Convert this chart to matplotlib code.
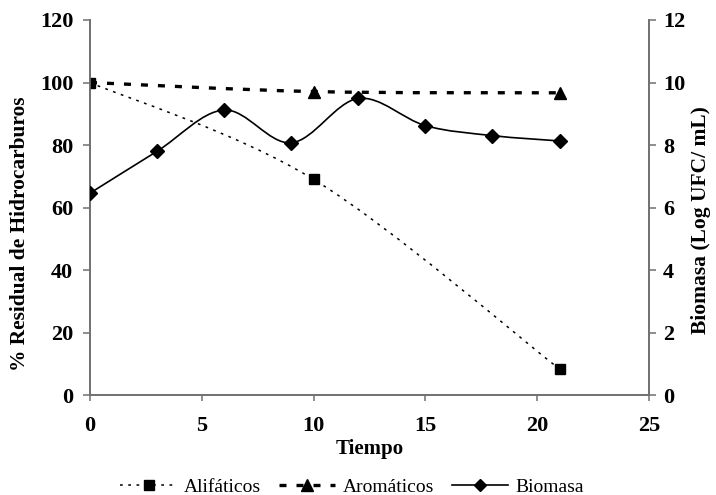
import numpy as np
import matplotlib.pyplot as plt
from matplotlib.path import Path
from matplotlib.patches import PathPatch
from matplotlib.lines import Line2D

plt.rcParams['font.family'] = ['Liberation Serif', 'DejaVu Serif']

# datos
t_hc = [0, 10, 21]
alifaticos = [100, 69, 8.3]
aromaticos = [100, 97.1, 96.7]

t_bio = [0, 3, 6, 9, 12, 15, 18, 21]
biomasa = [6.46, 7.8, 9.12, 8.07, 9.49, 8.62, 8.3, 8.13]

x_ticks = [0, 5, 10, 15, 20, 25]
y_ticks = [0, 20, 40, 60, 80, 100, 120]
y2_ticks = [0, 2, 4, 6, 8, 10, 12]


# linea suavizada tipo Excel (bezier cubica)
def smooth_path(x, y):
    p = np.column_stack([x, y]).astype(float)
    n = len(p)
    verts = [p[0]]
    codes = [Path.MOVETO]
    for i in range(n - 1):
        p0 = p[i - 1] if i > 0 else p[i]
        p3 = p[i + 2] if i + 2 < n else p[i + 1]
        c1 = p[i] + (p[i + 1] - p0) / 6
        c2 = p[i + 1] - (p3 - p[i]) / 6
        verts += [c1, c2, p[i + 1]]
        codes += [Path.CURVE4] * 3
    return Path(verts, codes)


fig = plt.figure(figsize=(7.16, 4.95), dpi=100)
ax = fig.add_axes([0.1257, 0.202, 0.7807, 0.7576])
ax2 = ax.twinx()

gris = '#707070'
punteada = (0, (1.8, 3.6))
rayada = (0, (2.1, 3.0))

ax.add_patch(PathPatch(smooth_path(t_hc, alifaticos), fill=False, color='black',
                       lw=1.1, linestyle=punteada, zorder=3))
ax.plot(t_hc, alifaticos, ls='none', marker='s', ms=7, color='black', zorder=5)

ax.add_patch(PathPatch(smooth_path(t_hc, aromaticos), fill=False, color='black',
                       lw=2.4, linestyle=rayada, zorder=3))
ax.plot(t_hc[1:], aromaticos[1:], ls='none', marker='^', ms=8, color='black', zorder=4)

ax2.add_patch(PathPatch(smooth_path(t_bio, biomasa), fill=False, color='black',
                        lw=1.2, zorder=3))
ax2.plot(t_bio, biomasa, ls='none', marker='D', ms=7, color='black', zorder=4)

ax.set_xlim(0, 25)
ax.set_ylim(0, 120)
ax2.set_ylim(0, 12)
ax.set_xticks(x_ticks)
ax.set_yticks(y_ticks)
ax2.set_yticks(y2_ticks)

for a in (ax, ax2):
    a.spines['top'].set_visible(False)
    for s in ('left', 'right', 'bottom'):
        a.spines[s].set_color(gris)
        a.spines[s].set_linewidth(1.2)
    a.tick_params(colors=gris, labelcolor='black', length=5, width=1.1, labelsize=16)

ax.tick_params(axis='x', length=4, pad=11)
ax.tick_params(axis='y', pad=7)
ax2.tick_params(axis='y', pad=5)
for lab in ax.get_xticklabels() + ax.get_yticklabels() + ax2.get_yticklabels():
    lab.set_fontweight('bold')

ax.set_xlabel('Tiempo', fontsize=15, fontweight='bold', labelpad=2)
ax.set_ylabel('% Residual de Hidrocarburos', fontsize=15.4, fontweight='bold')
ax2.set_ylabel('Biomasa (Log UFC/ mL)', fontsize=15.5, fontweight='bold')
ax.yaxis.set_label_coords(-0.107, 0.43)
ax2.yaxis.set_label_coords(1.075, 0.467)

handles = [
    Line2D([], [], color='black', lw=1.1, ls=punteada, marker='s', ms=7),
    Line2D([], [], color='black', lw=2.4, ls=rayada, marker='^', ms=8),
    Line2D([], [], color='black', lw=1.2, marker='D', ms=6),
]
fig.legend(handles, ['Alifáticos', 'Aromáticos', 'Biomasa'], loc='center',
           bbox_to_anchor=(352 / 716, 0.016), ncol=3, frameon=False, fontsize=14,
           handlelength=2.9, handletextpad=0.36, columnspacing=0.93,
           borderpad=0)

fig.savefig('out.png', dpi=100)
